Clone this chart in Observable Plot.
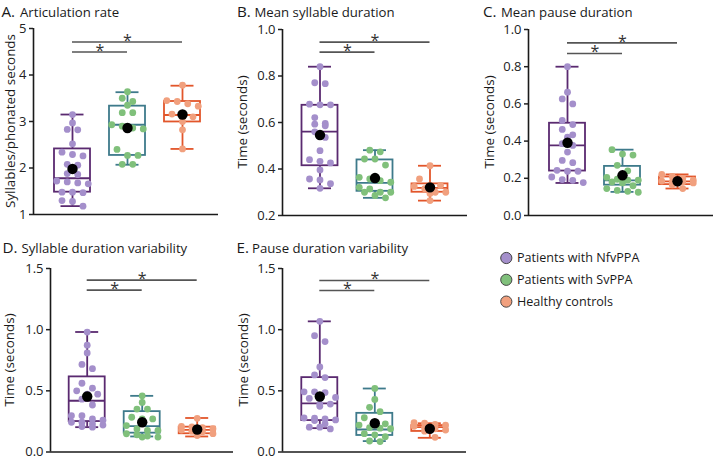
<!DOCTYPE html>
<html>
<head>
<meta charset="utf-8">
<script src="https://cdn.jsdelivr.net/npm/d3@7"></script>
<script src="https://cdn.jsdelivr.net/npm/@observablehq/plot@0.6"></script>
<style>
  html, body { margin: 0; padding: 0; background: #fff; }
  #wrap { position: relative; width: 716px; height: 459px; overflow: hidden; font-family: "Open Sans", sans-serif; }
  #wrap > svg, #wrap > figure { position: absolute; margin: 0; }
  [aria-label="y-axis tick"] path { stroke-width: 1.5px; }
  .ylab { position: absolute; white-space: nowrap; font-size: 13.4px; line-height: 16px; color: #1a1a1a;
          transform: translate(-50%, -50%) rotate(-90deg); }
</style>
</head>
<body>
<div id="wrap"></div>
<script>
// ---------- data ----------
const groups = ["Patients with NfvPPA", "Patients with SvPPA", "Healthy controls"];
const letters = ["A.", "B.", "C.", "D.", "E."];
const titles = ["Articulation rate", "Mean syllable duration", "Mean pause duration", "Syllable duration variability", "Pause duration variability"];
const yLabels = ["Syllables/phonated seconds", "Time (seconds)", "Time (seconds)", "Time (seconds)", "Time (seconds)"];

const ticksA = [1, 2, 3, 4, 5];
const ticksB = [0.2, 0.4, 0.6, 0.8, 1.0];
const ticksC = [0.0, 0.2, 0.4, 0.6, 0.8, 1.0];
const ticksD = [0.0, 0.5, 1.0, 1.5];
const ticksE = [0.0, 0.5, 1.0, 1.5];

// individual values per group
const aNfv = [3.15, 2.97, 2.83, 2.82, 2.52, 2.34, 2.29, 2.26, 2.08, 2.06, 1.88, 1.86, 1.72, 1.70, 1.68, 1.66, 1.48, 1.48, 1.47, 1.30, 1.28, 1.18];
const aSv  = [3.64, 3.50, 3.43, 3.35, 3.19, 3.19, 2.93, 2.90, 2.86, 2.84, 2.40, 2.27, 2.27, 2.08, 2.08];
const aHc  = [3.78, 3.45, 3.43, 3.38, 3.33, 3.16, 3.13, 3.10, 3.00, 2.82, 2.41];

const bNfv = [0.84, 0.771, 0.767, 0.679, 0.676, 0.676, 0.621, 0.596, 0.593, 0.586, 0.56, 0.536, 0.479, 0.44, 0.433, 0.426, 0.396, 0.357, 0.353, 0.337, 0.317];
const bSv  = [0.481, 0.474, 0.443, 0.443, 0.417, 0.364, 0.357, 0.35, 0.343, 0.321, 0.314, 0.30, 0.30, 0.30, 0.286, 0.276];
const bHc  = [0.414, 0.357, 0.33, 0.33, 0.325, 0.315, 0.30, 0.30, 0.295, 0.264];

const cNfv = [0.80, 0.663, 0.627, 0.60, 0.511, 0.489, 0.463, 0.434, 0.421, 0.386, 0.377, 0.341, 0.296, 0.284, 0.243, 0.238, 0.238, 0.207, 0.193, 0.189, 0.177];
const cSv  = [0.354, 0.33, 0.325, 0.27, 0.24, 0.205, 0.195, 0.19, 0.19, 0.18, 0.175, 0.16, 0.145, 0.135, 0.13, 0.125];
const cHc  = [0.221, 0.21, 0.20, 0.19, 0.185, 0.18, 0.18, 0.175, 0.165, 0.145];

const dNfv = [0.98, 0.873, 0.81, 0.716, 0.681, 0.562, 0.522, 0.50, 0.473, 0.473, 0.432, 0.384, 0.297, 0.297, 0.27, 0.26, 0.243, 0.243, 0.23, 0.22, 0.208, 0.203];
const dSv  = [0.459, 0.405, 0.351, 0.351, 0.284, 0.27, 0.27, 0.216, 0.189, 0.176, 0.176, 0.149, 0.141, 0.13, 0.122, 0.122];
const dHc  = [0.275, 0.21, 0.205, 0.20, 0.19, 0.18, 0.17, 0.165, 0.15, 0.135];

const eNfv = [1.068, 0.951, 0.903, 0.695, 0.63, 0.608, 0.492, 0.492, 0.486, 0.446, 0.438, 0.392, 0.392, 0.373, 0.278, 0.276, 0.27, 0.262, 0.257, 0.23, 0.203, 0.203, 0.189];
const eSv  = [0.52, 0.43, 0.365, 0.33, 0.28, 0.24, 0.23, 0.22, 0.20, 0.195, 0.19, 0.15, 0.14, 0.125, 0.09, 0.085];
const eHc  = [0.24, 0.235, 0.225, 0.22, 0.21, 0.20, 0.19, 0.18, 0.17, 0.12];

// box summaries per group: [min, q1, median, q3, max]
const boxA = [[1.18, 1.48, 1.78, 2.41, 3.15], [2.07, 2.27, 2.93, 3.33, 3.63], [2.41, 2.99, 3.14, 3.43, 3.77]];
const boxB = [[0.317, 0.414, 0.561, 0.674, 0.84], [0.276, 0.304, 0.34, 0.439, 0.481], [0.264, 0.30, 0.319, 0.336, 0.414]];
const boxC = [[0.175, 0.239, 0.377, 0.496, 0.80], [0.127, 0.163, 0.189, 0.264, 0.354], [0.145, 0.166, 0.184, 0.207, 0.221]];
const boxD = [[0.203, 0.249, 0.419, 0.614, 0.981], [0.127, 0.154, 0.211, 0.33, 0.459], [0.127, 0.149, 0.181, 0.203, 0.278]];
const boxE = [[0.195, 0.257, 0.397, 0.608, 1.068], [0.089, 0.135, 0.184, 0.316, 0.519], [0.116, 0.168, 0.203, 0.216, 0.235]];
// group means
const meanA = [1.98, 2.86, 3.15];
const meanB = [0.546, 0.361, 0.321];
const meanC = [0.391, 0.216, 0.184];
const meanD = [0.454, 0.243, 0.184];
const meanE = [0.454, 0.235, 0.19];

// significance comparisons (group index pairs)
const sigPairs = [[0, 1], [0, 2]];

// ---------- styles ----------
const boxColors = ["#5a2a70", "#3e7a8b", "#e2562b"];
const dotColors = ["#a48fcb", "#80c07b", "#f1a07e"];

// ---------- layout ----------
const PX = 55; // px per group step
const layout = [
  {left: 0,   top: 20,  h: 200, ml: 33, mr: 7, mt: 8,  mb: 6,   padL: 39,   padR: 36,   sig: [23.5, 13.5], dom: [1, 5],   ticks: ticksA, fmt: d3.format("d"),  pts: [aNfv, aSv, aHc], box: boxA, mean: meanA},
  {left: 235, top: 20,  h: 200, ml: 47, mr: 3, mt: 9,  mb: 5,   padL: 37.5, padR: 37.5, sig: [22.7, 12.7], dom: [0.2, 1], ticks: ticksB, fmt: d3.format(".1f"), pts: [bNfv, bSv, bHc], box: boxB, mean: meanB},
  {left: 478, top: 20,  h: 200, ml: 50, mr: 3, mt: 9,  mb: 5,   padL: 39,   padR: 36,   sig: [24, 13.3],   dom: [0, 1],   ticks: ticksC, fmt: d3.format(".1f"), pts: [cNfv, cSv, cHc], box: boxC, mean: meanC},
  {left: 0,   top: 250, h: 209, ml: 50, mr: 3, mt: 18, mb: 7.5, padL: 36.7, padR: 36.3, sig: [21.7, 11.7], dom: [0, 1.5], ticks: ticksD, fmt: d3.format(".1f"), pts: [dNfv, dSv, dHc], box: boxD, mean: meanD},
  {left: 235, top: 250, h: 209, ml: 47, mr: 3, mt: 18, mb: 7.5, padL: 37.3, padR: 36.7, sig: [22, 12],     dom: [0, 1.5], ticks: ticksE, fmt: d3.format(".1f"), pts: [eNfv, eSv, eHc], box: boxE, mean: meanE}
];

// Prism-like scatter: rows of nearby values spread symmetrically
function swarm(vals, pxY, step = 10.5, rowH = 6.5, maxRow = 4) {
  const idx = vals.map((v, i) => i).sort((a, b) => vals[b] - vals[a]);
  const off = new Array(vals.length).fill(0);
  let row = [], start = 0;
  const flush = () => { row.forEach((i, k) => off[i] = (k - (row.length - 1) / 2) * step); row = []; };
  for (const i of idx) {
    const py = vals[i] * pxY;
    if (row.length && start - py < rowH && row.length < maxRow) row.push(i);
    else { flush(); row = [i]; start = py; }
  }
  flush();
  return off;
}

const wrap = document.getElementById("wrap");

layout.forEach((L) => {
  const xDom = [-L.padL / PX, 2 + L.padR / PX];
  const width = L.ml + L.mr + L.padL + L.padR + 2 * PX;
  const [y0, y1] = L.dom;
  const pxY = (L.h - L.mt - L.mb) / (y1 - y0);
  const hw = 18 / PX, cw = 11.5 / PX;
  const points = [];
  L.pts.forEach((vals, g) => {
    const off = swarm(vals, pxY);
    vals.forEach((v, i) => points.push({g, x: g + off[i] / PX, y: v}));
  });
  const boxes = L.box.map((b, g) => ({g, min: b[0], q1: b[1], med: b[2], q3: b[3], max: b[4], mean: L.mean[g]}));
  const sig = sigPairs.map(([a, b], k) => ({a, b, mid: (a + b) / 2, off: L.sig[k]}));

  const marks = [
    Plot.ruleY([y0], {x1: xDom[0], x2: xDom[1], stroke: "#1a1a1a", strokeWidth: 1.6}),
    Plot.ruleX([xDom[0]], {y1: y0, y2: y1, stroke: "#1a1a1a", strokeWidth: 1.6})
  ];
  sig.forEach(s => {
    marks.push(Plot.ruleY([y1], {x1: s.a, x2: s.b, dy: s.off, stroke: "#555", strokeWidth: 1.7}));
    marks.push(Plot.text(["*"], {x: s.mid, y: y1, dy: s.off + 3.8, text: d => d, lineAnchor: "bottom", fontSize: 16, fill: "#333"}));
  });
  marks.push(
    Plot.ruleX(boxes, {x: "g", y1: "q3", y2: "max", stroke: d => boxColors[d.g], strokeWidth: 1.8}),
    Plot.ruleX(boxes, {x: "g", y1: "min", y2: "q1", stroke: d => boxColors[d.g], strokeWidth: 1.8}),
    Plot.ruleY(boxes, {y: "max", x1: d => d.g - cw, x2: d => d.g + cw, stroke: d => boxColors[d.g], strokeWidth: 1.8}),
    Plot.ruleY(boxes, {y: "min", x1: d => d.g - cw, x2: d => d.g + cw, stroke: d => boxColors[d.g], strokeWidth: 1.8}),
    Plot.rect(boxes, {x1: d => d.g - hw, x2: d => d.g + hw, y1: "q1", y2: "q3", fill: "white", stroke: d => boxColors[d.g], strokeWidth: 1.8}),
    Plot.ruleY(boxes, {y: "med", x1: d => d.g - hw, x2: d => d.g + hw, stroke: d => boxColors[d.g], strokeWidth: 1.8}),
    Plot.dot(points, {x: "x", y: "y", r: 3.4, fill: d => dotColors[d.g], stroke: "none"}),
    Plot.dot(boxes, {x: "g", y: "mean", r: 5.2, fill: "black", stroke: "none"})
  );

  const chart = Plot.plot({
    width, height: L.h,
    marginLeft: L.ml, marginRight: L.mr, marginTop: L.mt, marginBottom: L.mb,
    x: {domain: xDom, axis: null},
    y: {domain: L.dom, ticks: L.ticks, tickFormat: L.fmt, tickSize: 4, tickPadding: 3, label: null},
    color: {type: "identity"},
    style: {fontFamily: "Open Sans", fontSize: "13px", color: "#222", background: "transparent", overflow: "visible"},
    marks
  });
  chart.style.left = L.left + "px";
  chart.style.top = L.top + "px";
  wrap.appendChild(chart);
});

// ---------- titles, axis labels, legend ----------
const ov = d3.select(wrap).append("svg")
  .attr("width", 716).attr("height", 459)
  .style("left", "0px").style("top", "0px")
  .style("font-family", "Open Sans").style("pointer-events", "none");

const titlePos = [
  {lx: 1.5, tx: 20, b: 16.5},
  {lx: 237, tx: 254.5, b: 16.5},
  {lx: 483, tx: 501, b: 16.5},
  {lx: 2.5, tx: 21.5, b: 253},
  {lx: 236.5, tx: 252, b: 253}
];
const labelPos = [[9.5, 121], [242, 122], [489, 122], [9, 360], [243, 360]];

titles.forEach((t, i) => {
  const p = titlePos[i];
  ov.append("text").attr("x", p.lx).attr("y", p.b).attr("font-size", 15.2).attr("fill", "#1a1a1a").text(letters[i]);
  ov.append("text").attr("x", p.tx).attr("y", p.b).attr("font-size", 13.2).attr("fill", "#1a1a1a").text(t);
  const [x, y] = labelPos[i];
  d3.select(wrap).append("div").attr("class", "ylab")
    .style("left", x + "px").style("top", y + "px").text(yLabels[i]);
});

groups.forEach((g, i) => {
  const cy = 258 + i * 21.8;
  ov.append("circle").attr("cx", 506.3).attr("cy", cy).attr("r", 5.6)
    .attr("fill", dotColors[i]).attr("stroke", "#444").attr("stroke-width", 1);
  ov.append("text").attr("x", 517).attr("y", cy + 4.4).attr("font-size", 12.6).attr("fill", "#1a1a1a").text(g);
});
</script>
</body>
</html>
